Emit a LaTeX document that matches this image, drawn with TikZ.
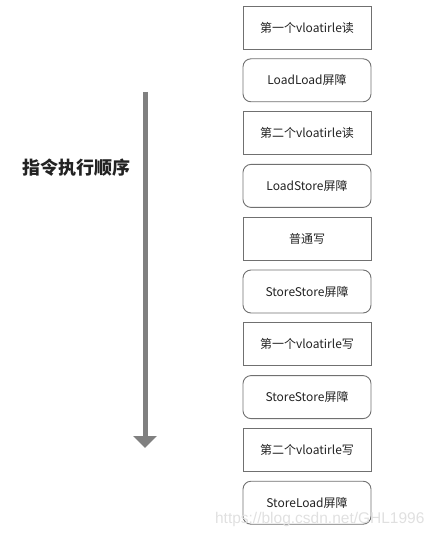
\documentclass[tikz,border=0pt]{standalone}
\usepackage{fontspec}
\setmainfont{Liberation Sans}
\newfontfamily\cjk{Noto Sans CJK SC}
\usetikzlibrary{arrows.meta}
\definecolor{boxline}{RGB}{112,112,112}
\definecolor{arrowgray}{RGB}{128,128,128}
\definecolor{txt}{RGB}{34,34,34}
\begin{document}
\begin{tikzpicture}[x=1pt,y=-1pt,
  base/.style={draw=boxline,line width=0.9pt,minimum width=128pt,minimum height=43pt,inner sep=0pt,
    font=\fontsize{12}{14}\selectfont\cjk,text=txt},
  sqbox/.style={base},
  rdbox/.style={base,rounded corners=8pt}]
\useasboundingbox (0,0) rectangle (436,534);
\node[sqbox] (b1) at (307,27.5) {第一个vloatirle读};
\node[rdbox] (b2) at (307,80.3) {LoadLoad屏障};
\node[sqbox] (b3) at (307,133.1) {第二个vloatirle读};
\node[rdbox] (b4) at (307,185.9) {LoadStore屏障};
\node[sqbox] (b5) at (307,238.7) {普通写};
\node[rdbox] (b6) at (307,291.5) {StoreStore屏障};
\node[sqbox] (b7) at (307,344.3) {第一个vloatirle写};
\node[rdbox] (b8) at (307,397.1) {StoreStore屏障};
\node[sqbox] (b9) at (307,449.9) {第二个vloatirle写};
\node[rdbox] (b10) at (307,502.7) {StoreLoad屏障};
\coordinate (at) at (145,92);
\coordinate (ab) at (145,448);
\draw[arrowgray,line width=5pt,-{Triangle[length=12pt,width=23pt]}] (at) -- (ab);
\node[font=\fontsize{18}{21}\selectfont\cjk\bfseries,text=txt] (title) at (76,168) {指令执行顺序};
\node[font=\fontsize{15.5}{18}\selectfont,text=black!12,anchor=base east] (wm) at (428,523) {https://blog.csdn.net/GHL1996};
\end{tikzpicture}
\end{document}
